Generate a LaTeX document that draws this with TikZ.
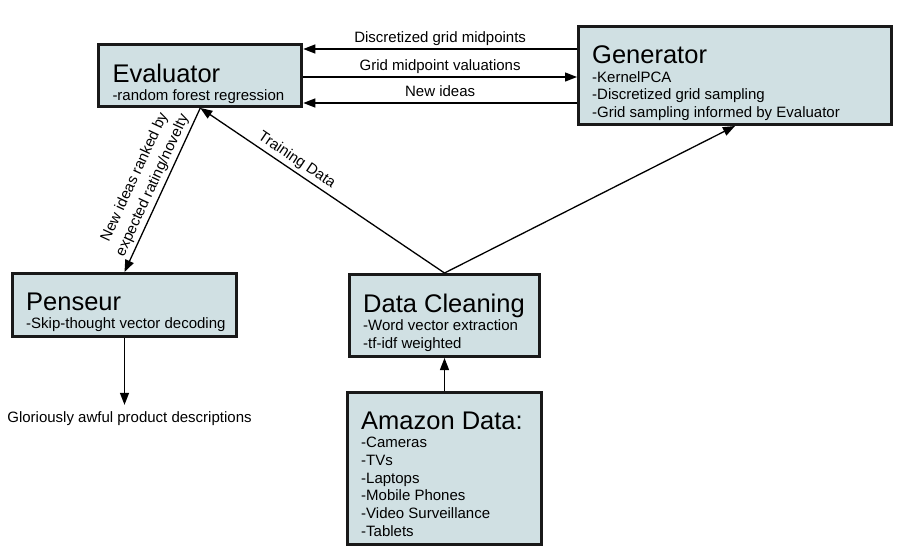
\documentclass[tikz,border=0pt]{standalone}
\usepackage{fontspec}
\setmainfont{Liberation Sans}
\usepackage{xcolor}
\usepackage{tikz}
\usetikzlibrary{positioning}
\usetikzlibrary{arrows.meta}

\definecolor{boxfill}{RGB}{208,224,227}
\definecolor{boxline}{RGB}{25,25,25}

\newcommand{\boxtitle}[1]{{\fontsize{25.5}{18}\selectfont #1}\\[0.8pt]}

\begin{document}
\begin{tikzpicture}[x=1pt, y=-1pt,
  block/.style={draw=boxline, fill=boxfill, line width=3pt, inner sep=0pt, anchor=north west},
  blocktext/.style={anchor=north west, inner sep=0pt, align=left, font=\fontsize{15}{17.7}\selectfont},
  arr/.style={line width=1.3pt, -{Triangle[length=12pt, width=9pt]}},
  elabel/.style={font=\fontsize{15}{17.7}\selectfont, inner sep=3pt}
]
\useasboundingbox (0,0) rectangle (905,557);

% Draw boxes
\node[block, minimum width=203, minimum height=62] (eval) at (97.3,43) {};
\node[block, minimum width=313, minimum height=98] (gen) at (577,25) {};
\node[block, minimum width=224, minimum height=63] (pens) at (11,272) {};
\node[block, minimum width=190, minimum height=82] (clean) at (348,273) {};
\node[block, minimum width=194, minimum height=152] (amazon) at (346,391) {};

% Box texts
\node[blocktext] (eval-txt) at ([shift={(15,20.5)}]eval.north west)
  {\boxtitle{Evaluator}-random forest regression};
\node[blocktext] (gen-txt) at ([shift={(15,20.5)}]gen.north west)
  {\boxtitle{Generator}-KernelPCA\\-Discretized grid sampling\\-Grid sampling informed by Evaluator};
\node[blocktext] (pens-txt) at ([shift={(15,20.5)}]pens.north west)
  {\boxtitle{Penseur}-Skip-thought vector decoding};
\node[blocktext] (clean-txt) at ([shift={(15,20.5)}]clean.north west)
  {\boxtitle{Data Cleaning}-Word vector extraction\\-tf-idf weighted};
\node[blocktext] (amazon-txt) at ([shift={(15,20.5)}]amazon.north west)
  {\boxtitle{Amazon Data:}-Cameras\\-TVs\\-Laptops\\-Mobile Phones\\-Video Surveillance\\-Tablets};

\node[elabel, anchor=base, inner xsep=0pt, inner ysep=6.8pt] (glorious) at (129.5,422.7)
  {Gloriously awful product descriptions};

% Draw arrows
\draw[arr] (gen.west |- 0,49) -- node[elabel, anchor=base, yshift=6.5pt, inner sep=0pt] {Discretized grid midpoints} (eval.east |- 0,49);
\draw[arr] (eval.east |- 0,77) -- node[elabel, anchor=base, yshift=6.5pt, inner sep=0pt] {Grid midpoint valuations} (gen.west |- 0,77);
\draw[arr] (gen.west |- 0,103) -- node[elabel, anchor=base, yshift=6.5pt, inner sep=0pt] {New ideas} (eval.east |- 0,103);

\draw[arr] (clean.north) -- node[elabel, pos=0.63, sloped, above] {Training Data} (eval.south);
\draw[arr] (clean.north) -- (gen.south);
\draw[arr] (eval.south) -- node[elabel, midway, sloped, above, align=center] {New ideas ranked by\\[2pt]expected rating/novelty} (pens.north);
\draw[arr] (pens.south) -- (pens.south |- glorious.north);
\draw[arr] (amazon.north) -- (clean.south);

\end{tikzpicture}
\end{document}
